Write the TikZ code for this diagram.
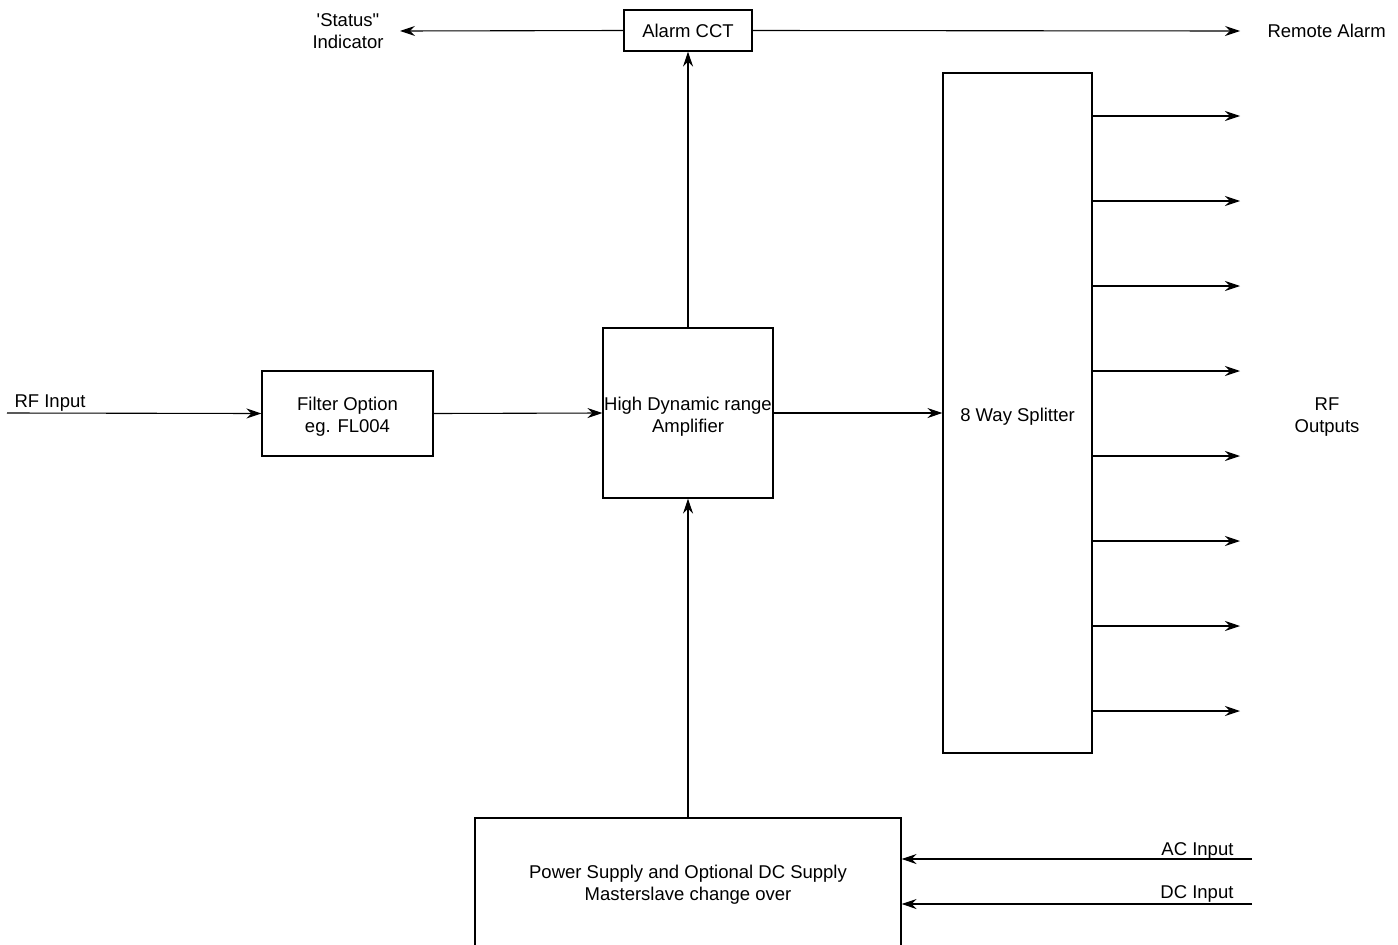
\documentclass[tikz,border=0pt]{standalone}
\usepackage{fontspec}
\setmainfont{Liberation Sans}[Ligatures=TeXOff]
\usetikzlibrary{arrows.meta, positioning, calc}

\begin{document}
\begin{tikzpicture}[x=1pt, y=-1pt, line width=1.1pt,
    >={Stealth[length=15pt, width=10pt, inset=5pt]},
    blk/.style={draw, inner sep=0pt},
    lbl/.style={inner sep=0pt, align=center},
    sig/.style={->}]
  \useasboundingbox (0,0) rectangle (1398,945);
  \fontsize{18.5}{22}\selectfont

  % --- blocks ---
  \node[blk, minimum width=128pt, minimum height=41pt] (alarm) at (688,30.5)
    {Alarm CCT};
  \node[blk, minimum width=171pt, minimum height=85pt,
    label={[lbl, yshift=-3pt]center:{Filter Option\\eg. FL004}}] (filter)
    at (347.5,413.5) {};
  \node[blk, minimum width=170pt, minimum height=170pt,
    label={[lbl, yshift=-3.5pt]center:{High Dynamic range\\Amplifier}}] (amp)
    at (688,413) {};
  \node[blk, minimum width=149pt, minimum height=680pt,
    label={[lbl, yshift=-3.5pt]center:{8 Way Splitter}}] (split)
    at (1017.5,413) {};
  \node[blk, minimum width=426pt, minimum height=130pt,
    label={[lbl, yshift=-1.5pt]center:{Power Supply and Optional DC Supply\\Masterslave change over}}] (psu)
    at (688,883) {};

  % --- free ends ---
  \coordinate (rfin) at (7,413);
  \coordinate (status) at (400,31);
  \coordinate (remote) at (1240,31);
  \coordinate (acin) at (1252,859);
  \coordinate (dcin) at (1252,904);

  % --- labels ---
  \node[lbl, anchor=west] (rfinlbl) at (14,403.5) {RF Input};
  \node[lbl] (statuslbl) at (348,31.5) {'Status"\\Indicator};
  \node[lbl, anchor=west] (remotelbl) at (1267,31) {Remote Alarm};
  \node[lbl] (rfoutlbl) at (1327,417) {RF\\Outputs};
  \node[lbl, anchor=east] (aclbl) at (1234,851) {AC Input};
  \node[lbl, anchor=east] (dclbl) at (1234,894) {DC Input};

  % --- signal path ---
  \draw[sig] (rfin) -- (filter.west);
  \draw[sig] (filter.east) -- (amp.west);
  \draw[sig] (amp.east) -- (split.west);
  \draw[sig] (amp.north) -- (alarm.south);
  \draw[sig] (psu.north) -- (amp.south);
  \draw[sig] (alarm.west) -- (status);
  \draw[sig] (alarm.east) -- (remote);
  \draw[sig] (acin) -- (psu.east |- acin);
  \draw[sig] (dcin) -- (psu.east |- dcin);

  % --- splitter outputs ---
  \foreach \i in {0,...,7}{
    \coordinate (out\i) at (1240,116+85*\i);
    \draw[sig] (split.east |- out\i) -- (out\i);
  }

\end{tikzpicture}
\end{document}
